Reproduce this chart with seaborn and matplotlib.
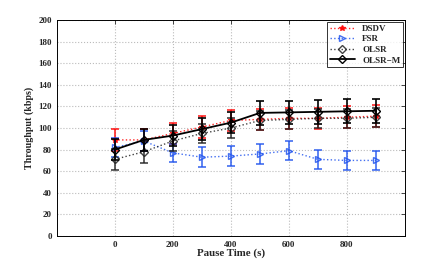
import matplotlib
matplotlib.use("Agg")
import matplotlib.pyplot as plt
import seaborn as sns
import pandas as pd

# --- Data ---
pause_time = [0, 100, 200, 300, 400, 500, 600, 700, 800, 900]

dsdv = [89, 89, 95, 101, 107, 108, 109, 109, 110, 111]
dsdv_err = [10, 10, 10, 10, 10, 10, 10, 10, 10, 10]

fsr = [82, 88, 77, 73, 74, 76, 79, 71, 70, 70]
fsr_err = [9, 9, 8, 9, 9, 9, 9, 9, 9, 9]

olsr = [71, 78, 88, 95, 100, 107, 108, 109, 109, 110]
olsr_err = [10, 10, 9, 9, 9, 9, 9, 9, 9, 9]

olsr_m = [80, 89, 93, 99, 105, 114, 114.5, 115, 115.5, 116]
olsr_m_err = [10, 10, 10, 10, 10, 11, 11, 11, 11, 11]

series = [
    ("DSDV", dsdv, dsdv_err, dict(color="red", linestyle=":", marker="*", mfc="red", ms=4, lw=1.0, alpha=0.85)),
    ("FSR", fsr, fsr_err, dict(color="#2255ee", linestyle=":", marker=">", mfc="none", ms=5, lw=1.0, alpha=0.85)),
    ("OLSR", olsr, olsr_err, dict(color="#222222", linestyle=":", marker="D", mfc="none", ms=4, lw=1.0, alpha=0.85)),
    ("OLSR\u2212M", olsr_m, olsr_m_err, dict(color="black", linestyle="-", marker="D", mfc="none", ms=4, lw=1.3, alpha=1.0)),
]

# --- Plot ---
sns.set_style("white")
plt.rcParams["font.family"] = ["Liberation Serif", "DejaVu Serif"]
plt.rcParams["font.weight"] = "bold"

fig = plt.figure(figsize=(4.36, 2.73), dpi=100)
ax = fig.add_axes([0.130, 0.1355, 0.799, 0.791])

for name, vals, errs, st in series:
    df = pd.DataFrame({"x": pause_time, "y": vals})
    sns.lineplot(data=df, x="x", y="y", ax=ax, label=name, color=st["color"],
                 linestyle=st["linestyle"], marker=st["marker"], markersize=st["ms"],
                 markerfacecolor=st["mfc"], markeredgecolor=st["color"],
                 markeredgewidth=1.0, linewidth=st["lw"], alpha=st["alpha"])
    ax.errorbar(pause_time, vals, yerr=errs, fmt="none", ecolor=st["color"],
                elinewidth=1.2, capsize=3, capthick=1.2, alpha=st["alpha"])

ax.set_xlim(-200, 1000)
ax.set_ylim(0, 200)
ax.set_xticks([0, 200, 400, 600, 800])
ax.set_yticks(range(0, 201, 20))
ax.grid(True, color="#bbbbbb", linestyle=":", linewidth=0.8)
ax.tick_params(direction="in", length=3, labelsize=6.5, top=True, right=True, width=0.6)
for lab in ax.get_xticklabels() + ax.get_yticklabels():
    lab.set_fontweight("bold")
for sp in ax.spines.values():
    sp.set_color("black")
    sp.set_linewidth(0.7)

ax.set_xlabel("Pause Time (s)", fontsize=7.8, fontweight="bold", labelpad=0)
ax.set_ylabel("Throughput (kbps)", fontsize=7.2, fontweight="bold", labelpad=3)

leg = ax.legend(loc="upper right", fontsize=6.5, frameon=True, fancybox=False,
                edgecolor="black", borderpad=0.3, handlelength=2.8, labelspacing=0.25,
                borderaxespad=0.2)
leg.get_frame().set_linewidth(0.7)
for t in leg.get_texts():
    t.set_fontweight("bold")

fig.savefig("out.png", dpi=100)
